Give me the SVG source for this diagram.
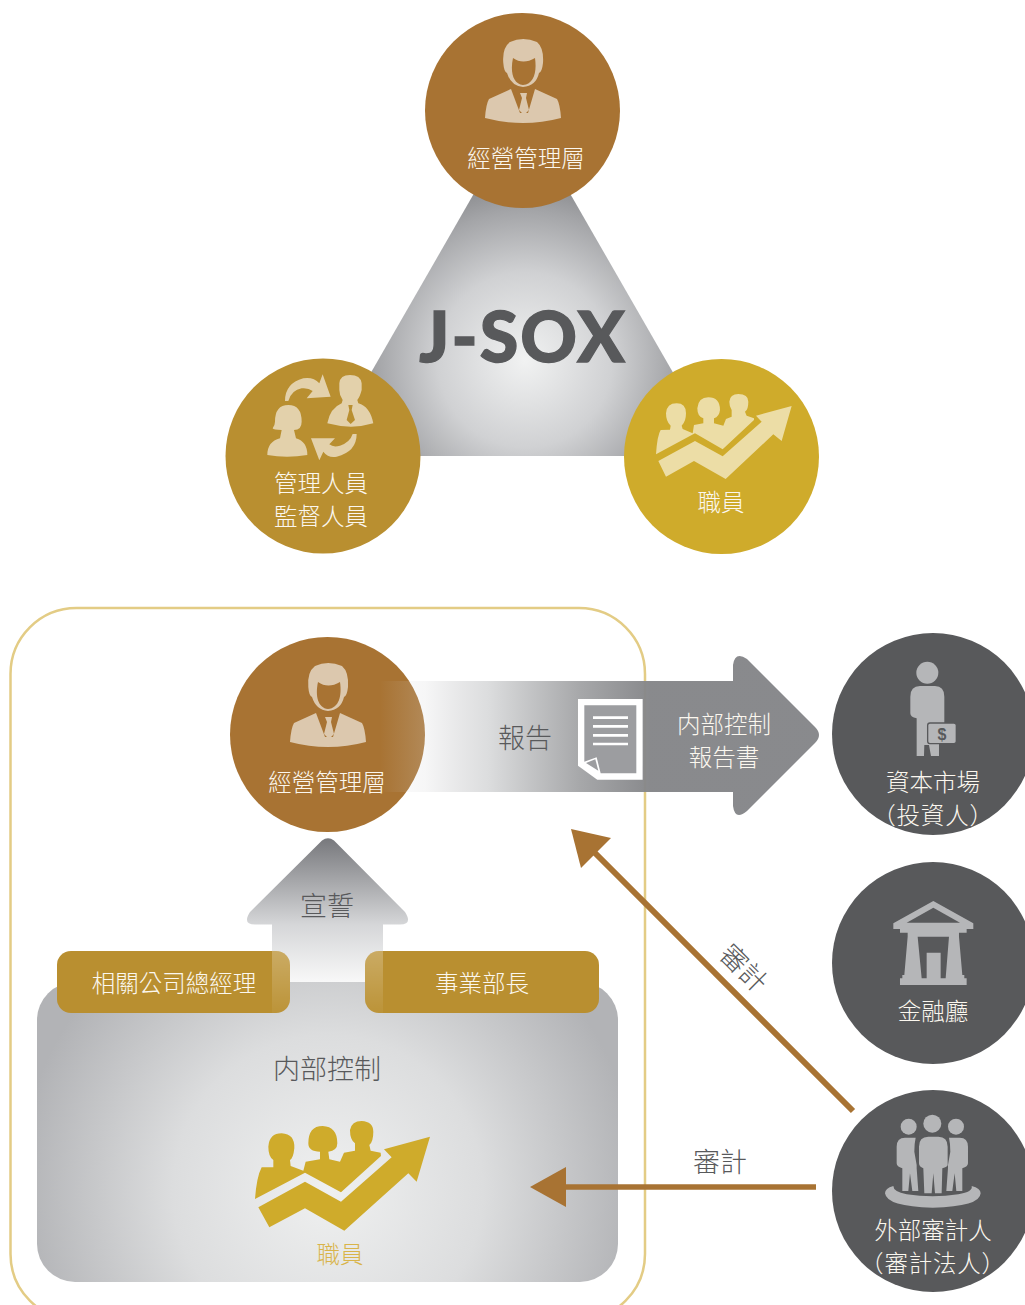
<svg xmlns="http://www.w3.org/2000/svg" width="1025" height="1305" viewBox="0 0 1025 1305">
<style>
text{font-family:"Noto Sans CJK TC","Noto Sans CJK JP",sans-serif;font-weight:300;text-anchor:middle;font-size:23.5px;fill:#fbf7ef}
.big{font-size:27px}
.dk{fill:#58595b}
.wide{letter-spacing:.8px}
.ic{fill:#b5b6b8}
.d{fill:#58595b}
</style>
<defs>
<radialGradient id="tri" gradientUnits="userSpaceOnUse" cx="525" cy="360" r="175"><stop offset="0" stop-color="#f1f2f2"/><stop offset=".5" stop-color="#d0d1d3"/><stop offset=".85" stop-color="#a4a5a8"/><stop offset="1" stop-color="#8e8f92"/></radialGradient>
<radialGradient id="box" gradientUnits="userSpaceOnUse" cx="328" cy="1190" r="310"><stop offset="0" stop-color="#eff0f0"/><stop offset=".5" stop-color="#dcddde"/><stop offset="1" stop-color="#b2b3b6"/></radialGradient>
<linearGradient id="ra" gradientUnits="userSpaceOnUse" x1="380" y1="0" x2="650" y2="0"><stop offset="0" stop-color="#d0d1d3" stop-opacity="0"/><stop offset=".167" stop-color="#d8d8da" stop-opacity=".22"/><stop offset=".4" stop-color="#dcddde" stop-opacity="1"/><stop offset=".74" stop-color="#a5a6a8" stop-opacity=".98"/><stop offset="1" stop-color="#848588" stop-opacity=".96"/></linearGradient>
<linearGradient id="ua" gradientUnits="userSpaceOnUse" x1="0" y1="838" x2="0" y2="982"><stop offset="0" stop-color="#77787c"/><stop offset=".6" stop-color="#d5d6d8"/><stop offset="1" stop-color="#f8f8f8"/></linearGradient>
<linearGradient id="ov" gradientUnits="userSpaceOnUse" x1="0" y1="951" x2="0" y2="1013"><stop offset="0" stop-color="#fff" stop-opacity=".25"/><stop offset="1" stop-color="#fff" stop-opacity=".04"/></linearGradient>
<clipPath id="pills"><rect x="57" y="951" width="233" height="62" rx="14"/><rect x="365" y="951" width="234" height="62" rx="14"/></clipPath>
<g id="mgr">
<path fill="#dcc8ae" fill-rule="evenodd" d="M-18.700,-47 Q-20,-62 -12,-68 Q1,-74 15,-68 Q22,-62 21,-47 Q20,-38 17,-37 Q14,-24 1,-23 Q-11,-24 -15,-37 Q-18,-38 -18.700,-47Z M-9,-52 Q1,-45 13,-52 C15,-38 12,-26 1,-25 C-9,-26 -12,-38 -9,-52Z"/>
<path fill="#dcc8ae" d="M-37,8 Q-36,-6 -33,-11 L-11,-21 L-2,3 L6,3 L13,-21 L35,-11 Q38,-6 39,8 Q1,18 -37,8Z"/>
<path fill="#dcc8ae" d="M-2,-17 H5 L4,-12 L7,0 L2,5 L-3,0 L0,-12Z"/>
</g>
</defs>

<g id="triangle-node">
<path d="M522,110 L323,456 H721Z" fill="url(#tri)"/>
<text x="523" y="362" style="font-family:Lato,'Open Sans',sans-serif;font-weight:900;font-size:70px;letter-spacing:2px;stroke:#58595b;stroke-width:1.300px;fill:#58595b">J-SOX</text>
</g>

<g id="node-top-mgmt">
<circle cx="522.500" cy="110.500" r="97.500" fill="#a87333"/>
<use href="#mgr" x="522" y="110"/>
<text x="526" y="167">經營管理層</text>
</g>

<g id="node-supervisors">
<circle cx="323" cy="456" r="97.500" fill="#b98f30"/>
<g transform="translate(220,355) scale(.3333)" fill="#e3d1ab">
<path d="M358,85 Q360,60 390,60 Q422,60 425,85 L425,105 Q420,125 412,135 L415,145 Q450,155 460,205 Q395,225 322,205 Q330,160 365,145 L368,135 Q358,120 358,105Z"/>
<path fill="#b98f30" d="M385,150 H398 L395,165 L405,195 L392,207 L380,195 L388,165Z"/>
<path d="M165,200 Q165,150 205,150 Q245,150 245,200 Q245,225 222,225 L228,250 Q262,260 262,300 Q200,310 142,300 Q142,260 180,250 L185,225 Q160,225 158,220 Q165,210 165,200Z"/>
<path d="M195,138 Q195,85 250,70 Q280,65 298,85 L308,58 L332,125 L260,130 L278,108 Q265,98 245,100 Q215,105 205,138Z"/>
<path d="M410,237 Q410,290 350,305 Q325,310 310,290 L298,316 L273,250 L345,250 L328,268 Q340,278 360,272 Q390,262 398,237Z"/>
</g>
<text x="321" y="492">管理人員</text>
<text x="321" y="525">監督人員</text>
</g>

<g id="node-staff">
<circle cx="721.500" cy="456.500" r="97.500" fill="#cfab2b"/>
<g transform="translate(620,355) scale(.3333)" fill="#ecdda6">
<path d="M115,318 L225,258 L308,304 L425,200 L408,182 L515,153 L485,258 L460,238 L317,372 L222,318 L138,365Z"/>
<path d="M108,298 Q112,240 122,225 L150,224 L152,212 Q138,200 138,175 Q140,145 170,145 Q198,145 198,175 Q198,200 185,212 L188,222 L218,235 L222,210 L250,205 L250,190 Q232,185 232,160 Q235,127 265,127 Q300,127 300,165 Q298,185 282,190 L282,205 L310,212 L318,192 L335,185 L335,165 Q328,155 328,140 Q330,117 355,117 Q385,117 385,140 Q385,165 375,170 L380,182 L402,190 L402,195 L308,283 L225,235Z"/>
</g>
<text x="721" y="511">職員</text>
</g>

<g id="node-internal-frame">
<rect x="10.500" y="608" width="634.500" height="712" rx="66" fill="none" stroke="#e3cc85" stroke-width="2.500"/>
</g>

<g id="node-mgmt-lower">
<circle cx="327.500" cy="734.500" r="97.500" fill="#a87333"/>
<use href="#mgr" x="327" y="734"/>
</g>

<g id="node-internal-control">
<rect x="37" y="982" width="581" height="300" rx="38" fill="url(#box)"/>
<text class="big dk" x="327" y="1079">内部控制</text>
<g transform="translate(240,1110) scale(.3333)" fill="#cfab2b">
<path d="M55,292 L195,215 L303,275 L455,142 L432,118 L570,80 L530,215 L505,190 L313,362 L195,295 L88,352Z"/>
<path d="M45,267 Q50,200 65,172 L100,172 L100,150 Q85,140 85,110 Q88,70 125,70 Q165,72 163,115 Q160,145 150,150 L152,168 L190,182 L197,155 L240,148 L240,125 Q205,125 205,100 Q205,48 248,48 Q292,50 292,100 Q292,122 265,125 L268,148 L300,155 L312,128 L345,122 L345,100 Q330,90 330,60 Q335,33 365,33 Q400,35 400,65 Q400,95 388,105 L392,122 L422,128 L423,138 L303,247 L195,188Z"/>
</g>
<text x="340" y="1263" style="fill:#d9b44a">職員</text>
</g>

<g id="connectors">
<path d="M322,840.500 Q328,836 334,840.500 L405,912 Q413,924.500 400,924.500 H383 V982 H272 V924.500 H255 Q242,924.500 250,912Z" fill="url(#ua)"/>
<text class="big dk" x="327" y="916">宣誓</text>
<path d="M380,681 H733 V665 Q735,651 747,659 L815,727 Q823,735 815,743 L747,811 Q735,821 733,806 V792 H380Z" fill="url(#ra)"/>
<text class="big dk" x="525" y="748">報告</text>
<g transform="translate(480,650) scale(.3333)">
<path fill="#fff" d="M294,147 H488 V389 H352 L294,347Z"/>
<path fill="#9c9da0" d="M313,166 H469 V370 H362 L350,322 L313,335Z"/>
<path fill="#9c9da0" d="M318,339 L346,328 L355,362Z"/>
<path stroke="#fff" stroke-width="8" d="M339,203 H444 M339,229 H444 M339,256 H444 M339,282 H444"/>
</g>
<text x="724" y="733">内部控制</text>
<text x="724" y="766">報告書</text>
<path d="M853,1111 L590,848" stroke="#a87333" stroke-width="6" fill="none"/>
<path d="M571,829 L611,838 L581,868Z" fill="#a87333"/>
<path d="M816,1187 H560" stroke="#a87333" stroke-width="5.500" fill="none"/>
<path d="M530,1187 L566,1167 V1207Z" fill="#a87333"/>
<text class="big dk" x="744" y="978" transform="rotate(45 744 968)">審計</text>
<text class="big dk" x="720" y="1172">審計</text>
</g>

<g id="node-gm">
<rect x="57" y="951" width="233" height="62" rx="14" fill="#b98f30"/>
<text x="174" y="992">相關公司總經理</text>
</g>
<g id="node-bu">
<rect x="365" y="951" width="234" height="62" rx="14" fill="#b98f30"/>
<text x="482" y="992">事業部長</text>
</g>
<g id="pill-overlap" clip-path="url(#pills)" fill="url(#ov)">
<rect x="272" y="951" width="18" height="62"/>
<rect x="365" y="951" width="18" height="62"/>
</g>

<g id="node-market">
<circle cx="933" cy="734" r="101" fill="#58595b"/>
<g transform="translate(825,630) scale(.3333)">
<circle class="ic" cx="307" cy="128" r="33"/>
<path class="ic" d="M256,200 Q256,168 285,168 H330 Q358,168 358,200 V282 H310 V342 H342 V378 H318 L312,345 H298 L297,378 H275 V265 Q256,262 256,250Z"/>
<rect x="308" y="279" width="86" height="62" rx="7" class="ic" stroke="#58595b" stroke-width="4"/>
</g>
<text x="942" y="740" style="font-family:'Liberation Sans',sans-serif;font-weight:700;font-size:16px;fill:#58595b">$</text>
<text x="933" y="791">資本市場</text>
<text class="wide" x="933" y="824">（投資人）</text>
</g>

<g id="node-fsa">
<circle cx="933" cy="963" r="101" fill="#58595b"/>
<g transform="translate(825,860) scale(.3333)">
<path class="ic" d="M205,190 L325,123 L445,190 V207 H425 V218 H402 V230 L412,345 H418 V355 H425 V375 H225 V355 H232 V345 H238 L248,230 V218 H225 V207 H205Z"/>
<path class="d" d="M245,188 L325,143 L405,188Z"/>
<path class="d" d="M278,230 H372 L362,355 H347 V278 H305 V355 H290Z"/>
</g>
<text x="933" y="1020">金融廳</text>
</g>

<g id="node-auditor">
<circle cx="933" cy="1191" r="101" fill="#58595b"/>
<g transform="translate(825,1085) scale(.3333)">
<circle class="ic" cx="251" cy="125" r="24"/>
<circle class="ic" cx="322" cy="116" r="27"/>
<circle class="ic" cx="393" cy="125" r="24"/>
<path class="ic" d="M215,185 Q215,158 240,158 H272 Q268,175 268,200 L275,240 V250 L280,318 H262 L255,265 L250,318 H232 V250 Q215,245 215,235Z"/>
<path class="ic" d="M429,185 Q429,158 404,158 H372 Q376,175 376,200 L369,240 V250 L364,318 H382 L389,265 L394,318 H412 V250 Q429,245 429,235Z"/>
<path class="ic" d="M282,185 Q282,155 310,155 H340 Q368,155 368,185 V240 Q368,245 352,250 L350,325 H330 L325,265 L320,325 H298 L295,250 Q282,245 282,235Z"/>
<path class="ic" d="M205,303 Q180,310 180,325 Q185,365 323,368 Q465,365 467,325 Q467,310 440,303 Q445,320 400,328 Q323,340 245,328 Q205,320 205,303Z"/>
</g>
<text x="933" y="1239">外部審計人</text>
<text class="wide" x="933" y="1272">（審計法人）</text>
</g>

<g id="node-mgmt-lower-label"><text x="327" y="791">經營管理層</text></g>
</svg>
